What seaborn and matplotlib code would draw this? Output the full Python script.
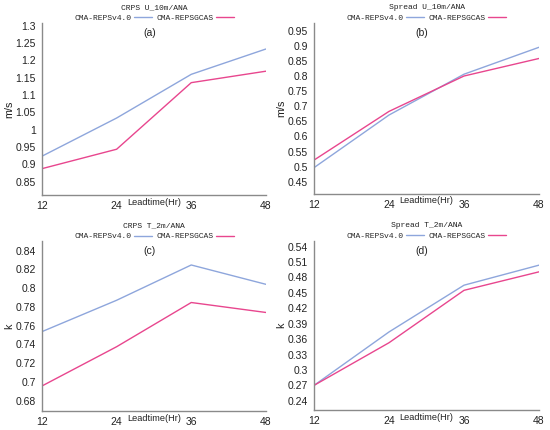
import matplotlib
matplotlib.use('Agg')
import matplotlib.pyplot as plt
from matplotlib.ticker import FuncFormatter
import seaborn as sns
import numpy as np
import pandas as pd

# --- DATA ---
leadtime = [12, 24, 36, 48]
models = ['CMA-REPSv4.0', 'CMA-REPSGCAS']

crps_u10_v40 = [0.924, 1.034, 1.160, 1.233]
crps_u10_gcas = [0.888, 0.944, 1.136, 1.169]

spread_u10_v40 = [0.497, 0.671, 0.806, 0.895]
spread_u10_gcas = [0.522, 0.683, 0.800, 0.858]

crps_t2_v40 = [0.7536, 0.787, 0.8246, 0.804]
crps_t2_gcas = [0.6957, 0.7375, 0.7846, 0.774]

spread_t2_v40 = [0.270, 0.374, 0.465, 0.504]
spread_t2_gcas = [0.270, 0.353, 0.455, 0.491]

titles = ['CRPS U_10m/ANA', 'Spread U_10m/ANA', 'CRPS T_2m/ANA', 'Spread T_2m/ANA']
panel_tags = ['(a)', '(b)', '(c)', '(d)']
units = ['m/s', 'm/s', 'k', 'k']

sns.set_style('white')
plt.rcParams['font.family'] = ['Liberation Sans', 'DejaVu Sans']

palette = {'CMA-REPSv4.0': '#8ea6dc', 'CMA-REPSGCAS': '#e8468e'}
mono = 'Liberation Mono'


def make_frame(v40, gcas):
    return pd.DataFrame({
        'Leadtime': leadtime * 2,
        'value': list(v40) + list(gcas),
        'model': [models[0]] * 4 + [models[1]] * 4,
    })


panels = [
    (make_frame(crps_u10_v40, crps_u10_gcas), (0.812, 1.308), np.arange(0.85, 1.3001, 0.05)),
    (make_frame(spread_u10_v40, spread_u10_gcas), (0.41, 0.976), np.arange(0.45, 0.9501, 0.05)),
    (make_frame(crps_t2_v40, crps_t2_gcas), (0.669, 0.850), np.arange(0.68, 0.8401, 0.02)),
    (make_frame(spread_t2_v40, spread_t2_gcas), (0.222, 0.551), np.arange(0.24, 0.5401, 0.03)),
]

# axes rectangles in figure fraction
rects = [
    [0.0764, 0.5465, 0.407, 0.400],
    [0.571, 0.549, 0.409, 0.398],
    [0.0764, 0.0442, 0.407, 0.395],
    [0.571, 0.0465, 0.409, 0.393],
]

fig = plt.figure(figsize=(5.5, 4.3), dpi=100)

for i, (df, ylim, yticks) in enumerate(panels):
    ax = fig.add_axes(rects[i])
    sns.lineplot(data=df, x='Leadtime', y='value', hue='model', palette=palette,
                 hue_order=models, linewidth=1.0, ax=ax, legend=False)

    ax.set_xlim(12, 48)
    ax.set_ylim(*ylim)
    ax.set_xticks(leadtime)
    ax.set_yticks(yticks)
    ax.yaxis.set_major_formatter(FuncFormatter(lambda v, p: f'{v:.2f}'.rstrip('0').rstrip('.')))

    sns.despine(ax=ax)
    for side in ['left', 'bottom']:
        ax.spines[side].set_color('#8a8a8a')
        ax.spines[side].set_linewidth(1.0)
    ax.tick_params(axis='both', direction='out', length=3, width=0.8, color='#8a8a8a',
                   labelsize=7.5, labelcolor='#222222', pad=1.5)

    ax.set_ylabel(units[i], fontsize=7.8, color='#222222')
    ax.yaxis.set_label_coords(-0.122, 0.5)
    ax.set_xlabel('Leadtime(Hr)', fontsize=6.6, color='#222222', va='top')
    ax.xaxis.set_label_coords(0.5, -0.015)

    ax.set_title(titles[i], fontsize=5.8, family=mono, pad=10, color='#222222')
    ax.text(0.48, 0.94, panel_tags[i], transform=ax.transAxes, ha='center', va='center',
            fontsize=7.5, color='#222222')

    handles = [plt.Line2D([], [], color=palette[m], linewidth=1.0) for m in models]
    ax.legend(handles, models, loc='lower center', bbox_to_anchor=(0.5, 1.0), ncol=2,
              frameon=False, markerfirst=False, handlelength=2.2, handletextpad=0.3,
              columnspacing=0.6, borderpad=0, borderaxespad=0.1,
              prop={'family': mono, 'size': 5.8})

fig.savefig('out.png', dpi=100)
